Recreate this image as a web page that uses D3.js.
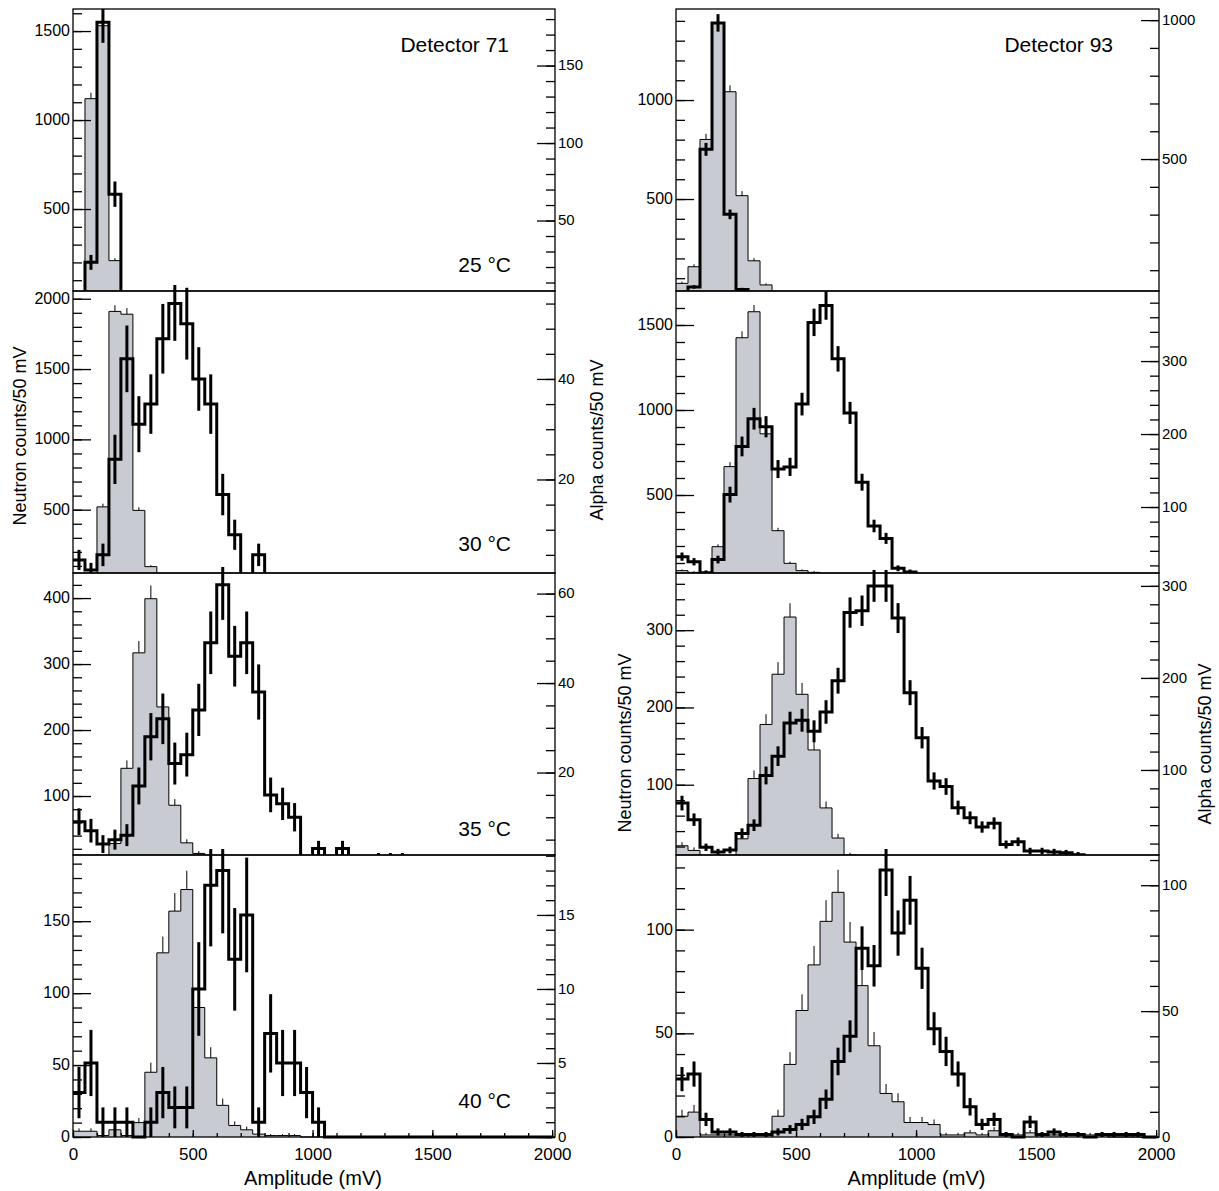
<!DOCTYPE html>
<html>
<head>
<meta charset="utf-8">
<script src="https://cdn.jsdelivr.net/npm/d3@7"></script>
<style>
  body { margin: 0; background: #fff; }
  svg text { font-family: 'Liberation Sans', Arial, Helvetica, sans-serif; fill: #000; }
</style>
</head>
<body>
<div id="chart"></div>
<script>
// bins are 50 mV wide, first bin starts at 0 mV
const binWidth = 50
const nBins = 40
const xMax = 2012
const xTicks = [0, 500, 1000, 1500, 2000]
const detectors = ['Detector 71', 'Detector 93']
const temperatures = ['25 °C', '30 °C', '35 °C', '40 °C']

// neutron counts (grey, left axis)
const det71Neutron25 = [0, 1120, 1530, 210]
const det71Neutron30 = [0, 0, 520, 1910, 1890, 495, 95, 12, 5, 3]
const det71Neutron35 = [0, 0, 0, 28, 142, 317, 399, 235, 86, 29, 13, 6, 4, 2]
const det71Neutron40 = [4, 4, 1, 5, 1, 10, 45, 128, 157, 172, 90, 55, 22, 8, 5, 2, 1, 1, 1]
const det93Neutron25 = [74, 158, 801, 1390, 1042, 517, 188, 66]
const det93Neutron30 = [55, 45, 20, 196, 667, 1425, 1578, 860, 290, 98, 55, 45, 35, 25, 20, 15, 10, 8, 5, 3]
const det93Neutron35 = [21, 15, 6, 5, 7, 30, 108, 178, 243, 317, 217, 145, 70, 31, 9, 7, 5, 4, 3, 3, 2, 2, 1, 1]
const det93Neutron40 = [10, 12, 1, 1, 1, 1, 1, 1, 10, 35, 61, 83, 104, 118, 94, 73, 44, 21, 17, 7,
  7, 6, 1, 1, 2, 1, 3, 1, 1, 2, 1, 1, 1, 1, 1, 1]

// alpha counts (thick line, right axis)
const det71Alpha25 = [0, 23, 178, 67]
const det71Alpha30 = [4, 2, 5, 24, 44, 31, 35, 48, 55, 51, 40, 35, 17, 9, 0, 5]
const det71Alpha35 = [9, 7, 4, 5, 6, 17, 28, 32, 22, 24, 34, 49, 62, 46, 49, 38, 15, 13, 10, 0,
  3, 0, 3, 0, 0, 1, 1, 1]
const det71Alpha40 = [3, 5, 1, 1, 1, 0, 1, 3, 2, 2, 10, 17, 18, 12, 15, 1, 7, 5, 5, 3, 1]
const det93Alpha25 = [0, 40, 535, 990, 301, 31]
const det93Alpha30 = [32, 25, 10, 28, 117, 183, 221, 210, 152, 155, 241, 353, 376, 303, 229, 134, 74, 57, 16, 11,
  7, 3, 1]
const det93Alpha35 = [64, 46, 16, 11, 13, 31, 40, 94, 115, 151, 154, 142, 163, 197, 271, 273, 300, 300, 265, 184,
  135, 88, 82, 59, 48, 38, 42, 19, 22, 12, 12, 11, 10, 8, 5, 3, 2, 1]
const det93Alpha40 = [23, 25, 7, 2, 2, 1, 1, 1, 2, 3, 5, 8, 15, 30, 40, 75, 68, 106, 81, 94,
  67, 43, 34, 25, 12, 5, 7, 1, 0, 6, 1, 2, 1, 1, 0, 1, 1, 1, 1]

// axis tops [neutron, alpha] per temperature
const det71Max = [[1624, 186.5], [2055, 57.5], [438, 64.6], [196, 19.05]]
const det93Max = [[1460, 1040], [1700, 396], [374, 314], [136, 112]]
// [major, minor] tick steps for the neutron and the alpha axis
const det71Steps = [[[500, 100], [50, 10]], [[500, 100], [20, 5]], [[100, 20], [20, 5]], [[50, 10], [5, 1]]]
const det93Steps = [[[500, 100], [500, 100]], [[500, 100], [100, 20]], [[100, 20], [100, 20]], [[50, 10], [50, 10]]]

const layout = {
  width: 1219,
  height: 1191,
  columns: [{ x0: 73, x1: 555 }, { x0: 676, x1: 1159 }],
  top: 9,
  rowH: 282,
  zeroDrop: 7,
  tempOffset: [19, 22, 19, 29]
}

const svg = d3.select('#chart')
  .append('svg')
  .attr('width', layout.width)
  .attr('height', layout.height)
const defs = svg.append('defs')
const plain = d3.format('d')

function toBins (counts) {
  return d3.range(nBins).map(i => ({ lo: i * binWidth, n: counts[i] || 0 }))
}

class Panel {
  constructor (conf) {
    Object.assign(this, conf)
    const c = layout.columns[this.col]
    this.x0 = c.x0
    this.x1 = c.x1
    this.last = this.row === 3
    this.top = layout.top + this.row * layout.rowH
    this.bottom = this.top + layout.rowH
    this.zeroY = this.last ? this.bottom : this.bottom + layout.zeroDrop
    this.x = d3.scaleLinear().domain([0, xMax]).range([this.x0, this.x1])
    this.yN = d3.scaleLinear().domain([0, this.max[0]]).range([this.zeroY, this.top])
    this.yA = d3.scaleLinear().domain([0, this.max[1]]).range([this.zeroY, this.top])
    this.id = `p${this.col}${this.row}`
  }

  draw () {
    const g = svg.append('g')
    this.addClips()
    this.drawNeutron(g)
    this.drawAlpha(g)
    g.append('rect')
      .attr('x', this.x0).attr('y', this.top)
      .attr('width', this.x1 - this.x0).attr('height', this.bottom - this.top)
      .style('fill', 'none').style('stroke', '#000').style('stroke-width', 1.3)
    this.drawYAxis(g, this.yN, this.steps[0], 'left')
    this.drawYAxis(g, this.yA, this.steps[1], 'right')
    if (this.last) this.drawXAxis(g)
  }

  addClips () {
    const over = this.row === 0 ? 0 : 6
    defs.append('clipPath').attr('id', `${this.id}-h`)
      .append('rect')
      .attr('x', this.x0).attr('y', this.top)
      .attr('width', this.x1 - this.x0)
      .attr('height', this.bottom - this.top + (this.last ? 2 : 0))
    defs.append('clipPath').attr('id', `${this.id}-e`)
      .append('rect')
      .attr('x', this.x0).attr('y', this.top - over)
      .attr('width', this.x1 - this.x0)
      .attr('height', this.bottom - this.top + over)
  }

  stepData (bins) {
    return bins.map(b => [b.lo, b.n]).concat([[nBins * binWidth, 0]])
  }

  errorBars (g, bins, y, width) {
    g.append('g')
      .attr('clip-path', `url(#${this.id}-e)`)
      .selectAll('line')
      .data(bins.filter(b => b.n > 0))
      .join('line')
      .attr('x1', b => this.x(b.lo + binWidth / 2))
      .attr('x2', b => this.x(b.lo + binWidth / 2))
      .attr('y1', b => y(b.n - Math.sqrt(b.n)))
      .attr('y2', b => y(b.n + Math.sqrt(b.n)))
      .style('stroke', '#000')
      .style('stroke-width', width)
  }

  drawNeutron (g) {
    const bins = toBins(this.neutron)
    // poisson errors, the part inside the bar is hidden by the fill
    this.errorBars(g, bins, this.yN, 1)
    const h = g.append('g').attr('clip-path', `url(#${this.id}-h)`)
    h.append('path')
      .attr('d', d3.area().curve(d3.curveStepAfter)
        .x(d => this.x(d[0])).y0(this.zeroY).y1(d => this.yN(d[1]))(this.stepData(bins)))
      .style('fill', '#c9cbd2')
    h.append('path')
      .attr('d', d3.line().curve(d3.curveStepAfter)
        .x(d => this.x(d[0])).y(d => this.yN(d[1]))(this.stepData(bins)))
      .style('fill', 'none').style('stroke', '#000').style('stroke-width', 1)
  }

  drawAlpha (g) {
    const bins = toBins(this.alpha)
    g.append('g').attr('clip-path', `url(#${this.id}-h)`)
      .append('path')
      .attr('d', d3.line().curve(d3.curveStepAfter)
        .x(d => this.x(d[0])).y(d => this.yA(d[1]))(this.stepData(bins)))
      .style('fill', 'none').style('stroke', '#000').style('stroke-width', 3)
    this.errorBars(g, bins, this.yA, 3)
  }

  drawYAxis (g, scale, steps, side) {
    const [major, minor] = steps
    const top = scale.domain()[1]
    const visible = v => scale(v) <= this.bottom + 0.5
    const axisFn = side === 'left' ? d3.axisLeft : d3.axisRight
    const pos = side === 'left' ? this.x0 : this.x1
    const a = g.append('g').attr('transform', `translate(${pos},0)`)

    a.append('g').call(axisFn(scale)
      .tickValues(d3.range(0, top, minor).filter(visible))
      .tickSizeInner(-9).tickSizeOuter(0).tickFormat(''))
    a.append('g').call(axisFn(scale)
      .tickValues(d3.range(0, top, major).filter(visible))
      .tickSizeInner(-18).tickSizeOuter(0).tickPadding(3).tickFormat(plain))
      .selectAll('text')
      .attr('dy', '0.28em')
      .style('font-size', side === 'left' ? '16px' : '15px')

    a.selectAll('.domain').remove()
    a.selectAll('.tick line').style('stroke', '#000').style('stroke-width', 1.3)
    a.selectAll('g').attr('font-family', null)
  }

  drawXAxis (g) {
    const a = g.append('g').attr('transform', `translate(0,${this.bottom})`)
    a.append('g').call(d3.axisBottom(this.x)
      .tickValues(d3.range(0, 2001, 100))
      .tickSizeInner(-4).tickSizeOuter(0).tickFormat(''))
    a.append('g').call(d3.axisBottom(this.x)
      .tickValues(xTicks)
      .tickSizeInner(-7).tickSizeOuter(0).tickPadding(11).tickFormat(plain))
      .selectAll('text')
      .style('font-size', '17px')
    a.selectAll('.domain').remove()
    a.selectAll('.tick line').style('stroke', '#000').style('stroke-width', 1.3)
    a.selectAll('g').attr('font-family', null)

    svg.append('text')
      .attr('x', (this.x0 + this.x1) / 2 - 1)
      .attr('y', this.bottom + 48)
      .attr('text-anchor', 'middle')
      .style('font-size', '20px')
      .text('Amplitude (mV)')
  }
}

const columns = [
  {
    neutron: [det71Neutron25, det71Neutron30, det71Neutron35, det71Neutron40],
    alpha: [det71Alpha25, det71Alpha30, det71Alpha35, det71Alpha40],
    max: det71Max,
    steps: det71Steps
  },
  {
    neutron: [det93Neutron25, det93Neutron30, det93Neutron35, det93Neutron40],
    alpha: [det93Alpha25, det93Alpha30, det93Alpha35, det93Alpha40],
    max: det93Max,
    steps: det93Steps
  }
]

columns.forEach((c, col) => {
  d3.range(4).forEach(row => {
    new Panel({
      col,
      row,
      neutron: c.neutron[row],
      alpha: c.alpha[row],
      max: c.max[row],
      steps: c.steps[row]
    }).draw()
  })
  const { x1 } = layout.columns[col]
  svg.append('text')
    .attr('x', x1 - 46)
    .attr('y', 52)
    .attr('text-anchor', 'end')
    .style('font-size', '21px')
    .text(detectors[col])
})

temperatures.forEach((t, row) => {
  const bottom = layout.top + (row + 1) * layout.rowH
  svg.append('text')
    .attr('x', 511)
    .attr('y', bottom - layout.tempOffset[row])
    .attr('text-anchor', 'end')
    .style('font-size', '21px')
    .text(t)
})

// axis titles, rotated
const titles = [
  { text: 'Neutron counts/50 mV', x: 20, y: 436 },
  { text: 'Alpha counts/50 mV', x: 597, y: 440 },
  { text: 'Neutron counts/50 mV', x: 625, y: 743 },
  { text: 'Alpha counts/50 mV', x: 1205, y: 744 }
]
svg.selectAll('.title')
  .data(titles)
  .join('text')
  .attr('class', 'title')
  .attr('transform', d => `translate(${d.x},${d.y}) rotate(-90)`)
  .attr('text-anchor', 'middle')
  .attr('dy', '0.35em')
  .style('font-size', '18px')
  .text(d => d.text)
</script>
</body>
</html>
